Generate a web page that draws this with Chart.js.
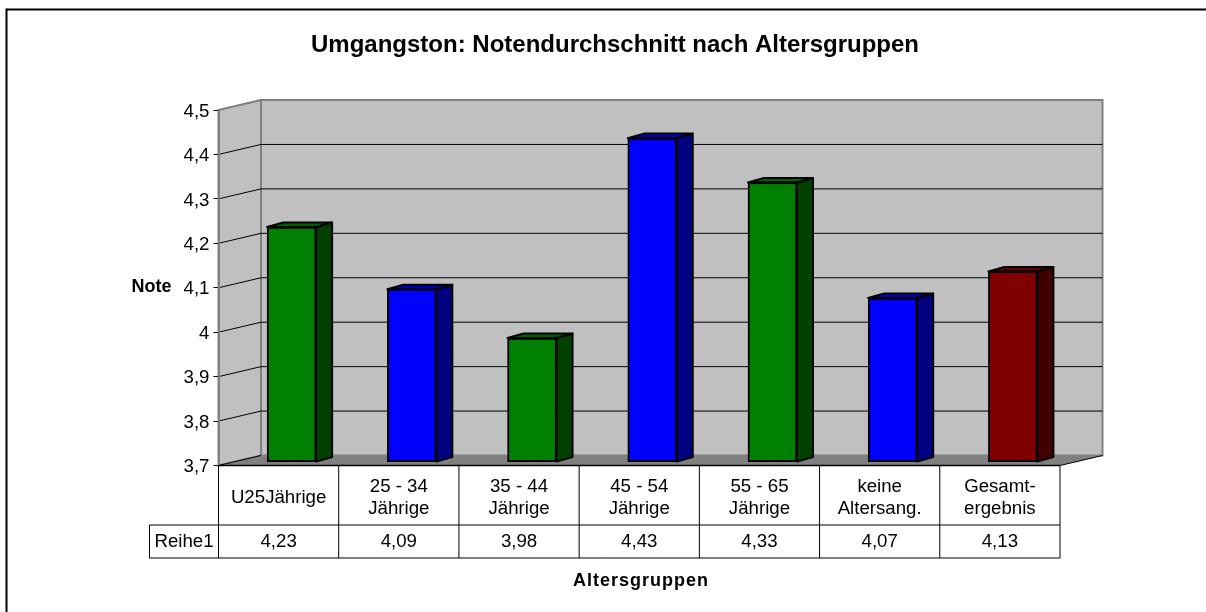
<!DOCTYPE html>
<html>
<head>
<meta charset="utf-8">
<title>Umgangston</title>
<script src="https://cdn.jsdelivr.net/npm/chart.js@4"></script>
<style>
  html, body { margin: 0; padding: 0; background: #fff; }
  canvas { display: block; }
</style>
</head>
<body>
<canvas id="chart" width="1206" height="612"></canvas>
<script>
// Daten
const categories = ["U25Jährige", ["25 - 34", "Jährige"], ["35 - 44", "Jährige"], ["45 - 54", "Jährige"], ["55 - 65", "Jährige"], ["keine", "Altersang."], ["Gesamt-", "ergebnis"]];
const values = [4.23, 4.09, 3.98, 4.43, 4.33, 4.07, 4.13];
const seriesName = "Reihe1";
const chartTitle = "Umgangston: Notendurchschnitt nach Altersgruppen";
const yTitle = "Note";
const xTitle = "Altersgruppen";
const yMin = 3.7;
const yMax = 4.5;

// Farben: Front, Seite, Deckel
const frontColors = ["#008000", "#0000ff", "#008000", "#0000ff", "#008000", "#0000ff", "#800000"];
const sideColors = ["#004000", "#000080", "#004000", "#000080", "#004000", "#000080", "#400000"];
const topColors = ["#006000", "#0000c0", "#006000", "#0000c0", "#006000", "#0000c0", "#600000"];

const FONT = "'Liberation Sans', Arial, sans-serif";

// 3D-Versatz
const wallDx = 42.5, wallDy = -10;
const barDx = 16, barDy = -4.5;
const barShiftX = 13, barShiftY = -3;

function poly(ctx, pts, fill, stroke, lw) {
    ctx.beginPath();
    pts.forEach((p, i) => i ? ctx.lineTo(p[0], p[1]) : ctx.moveTo(p[0], p[1]));
    ctx.closePath();
    if (fill) { ctx.fillStyle = fill; ctx.fill(); }
    if (stroke) { ctx.strokeStyle = stroke; ctx.lineWidth = lw; ctx.stroke(); }
}

function line(ctx, x1, y1, x2, y2, color, lw) {
    ctx.beginPath();
    ctx.moveTo(x1, y1);
    ctx.lineTo(x2, y2);
    ctx.strokeStyle = color;
    ctx.lineWidth = lw;
    ctx.stroke();
}

// Rahmen, Wände und Boden
const wallsPlugin = {
    id: "walls",
    beforeDraw(chart) {
        const { ctx, chartArea: a, scales: { y } } = chart;
        ctx.save();
        line(ctx, 6.5, 9.5, 1206, 9.5, "#000", 2);
        line(ctx, 6.5, 8.5, 6.5, 612, "#000", 2);

        poly(ctx, [[a.left + wallDx, a.top + wallDy], [a.right + wallDx, a.top + wallDy], [a.right + wallDx, a.bottom + wallDy], [a.left + wallDx, a.bottom + wallDy]], "#c0c0c0", "#808080", 2);
        poly(ctx, [[a.left, a.top], [a.left + wallDx, a.top + wallDy], [a.left + wallDx, a.bottom + wallDy], [a.left, a.bottom]], "#c0c0c0", "#808080", 2);
        poly(ctx, [[a.left, a.bottom], [a.left + wallDx, a.bottom + wallDy], [a.right + wallDx, a.bottom + wallDy], [a.right, a.bottom]], "#808080");

        y.ticks.forEach(t => {
            if (t.value <= y.min || t.value >= y.max) return;
            const py = y.getPixelForValue(t.value);
            line(ctx, a.left, py, a.left + wallDx, py + wallDy, "#000", 1);
            line(ctx, a.left + wallDx, py + wallDy, a.right + wallDx, py + wallDy, "#000", 1);
        });
        line(ctx, a.left, a.top, a.left + wallDx, a.top + wallDy, "#808080", 1);
        line(ctx, a.left, a.bottom, a.left + wallDx, a.bottom + wallDy, "#000", 1);
        line(ctx, a.right, a.bottom, a.right + wallDx, a.bottom + wallDy, "#000", 1);
        ctx.restore();
    },
    // Seite und Deckel der Säulen
    beforeDatasetsDraw(chart) {
        const ctx = chart.ctx;
        ctx.save();
        ctx.lineJoin = "round";
        chart.getDatasetMeta(0).data.forEach((bar, i) => {
            const l = bar.x - bar.width / 2 + barShiftX, r = bar.x + bar.width / 2 + barShiftX;
            const t = bar.y + barShiftY, b = bar.base + barShiftY;
            poly(ctx, [[r, t], [r + barDx, t + barDy], [r + barDx, b + barDy], [r, b]], sideColors[i], "#000", 2);
            poly(ctx, [[l, t], [l + barDx, t + barDy], [r + barDx, t + barDy], [r, t]], topColors[i], "#000", 2);
        });
        ctx.restore();
    },
    beforeDatasetDraw(chart) {
        chart.ctx.save();
        chart.ctx.translate(barShiftX, barShiftY);
    },
    afterDatasetDraw(chart) {
        chart.ctx.restore();
    },
    // Datentabelle und Achsentitel
    afterDraw(chart) {
        const { ctx, chartArea: a, scales: { x } } = chart;
        const rowTop = 525, rowBottom = 558, headLeft = 149.5;
        ctx.save();
        const n = categories.length, cell = (a.right - a.left) / n;
        line(ctx, a.left, a.bottom, a.right, a.bottom, "#000", 1.5);
        line(ctx, headLeft, rowTop, a.right, rowTop, "#000", 1);
        line(ctx, headLeft, rowBottom, a.right, rowBottom, "#000", 1);
        line(ctx, headLeft, rowTop, headLeft, rowBottom, "#000", 1);
        for (let i = 0; i <= n; i++) {
            const px = a.left + i * cell;
            line(ctx, px, a.bottom, px, rowBottom, "#000", 1);
        }
        ctx.fillStyle = "#000";
        ctx.font = "18.67px " + FONT;
        ctx.textAlign = "center";
        ctx.textBaseline = "middle";
        ctx.fillText(seriesName, (headLeft + a.left) / 2, 542);
        values.forEach((v, i) => {
            ctx.fillText(v.toFixed(2).replace(".", ","), x.getPixelForValue(i), 542);
        });
        ctx.font = "bold 18px " + FONT;
        ctx.fillText(yTitle, 151.5, 287);
        ctx.letterSpacing = "1px";
        ctx.fillText(xTitle, 641, 581);
        ctx.restore();
    }
};

new Chart(document.getElementById("chart"), {
    type: "bar",
    data: {
        labels: categories,
        datasets: [{
            label: seriesName,
            data: values,
            base: yMin + 0.002,
            backgroundColor: frontColors,
            borderColor: "#000",
            borderWidth: 2,
            borderSkipped: false,
            barThickness: 49
        }]
    },
    options: {
        responsive: false,
        animation: false,
        layout: { padding: { left: 170, right: 146, top: 0, bottom: 0 } },
        plugins: {
            legend: { display: false },
            tooltip: { enabled: false },
            title: {
                display: true,
                text: chartTitle,
                color: "#000",
                font: { family: FONT, size: 24, weight: "bold", lineHeight: 1.2 },
                padding: { top: 31, bottom: 50.2 }
            }
        },
        scales: {
            x: {
                afterFit(scale) { scale.height = 146.5; },
                grid: { display: false },
                border: { display: false },
                ticks: {
                    color: "#000",
                    maxRotation: 0,
                    autoSkip: false,
                    crossAlign: "center",
                    padding: 13,
                    font: { family: FONT, size: 18.67, lineHeight: 1.18 }
                }
            },
            y: {
                min: yMin,
                max: yMax,
                afterFit(scale) { scale.width = 48.5; },
                grid: { drawOnChartArea: false, drawTicks: true, tickLength: 5, color: "#000", tickColor: "#000" },
                border: { display: true, color: "#808080", width: 2 },
                ticks: {
                    stepSize: 0.1,
                    color: "#000",
                    padding: 4,
                    labelOffset: 1.5,
                    font: { family: FONT, size: 18.67 },
                    callback: v => String(Number(v.toFixed(1))).replace(".", ",")
                }
            }
        }
    },
    plugins: [wallsPlugin]
});
</script>
</body>
</html>
